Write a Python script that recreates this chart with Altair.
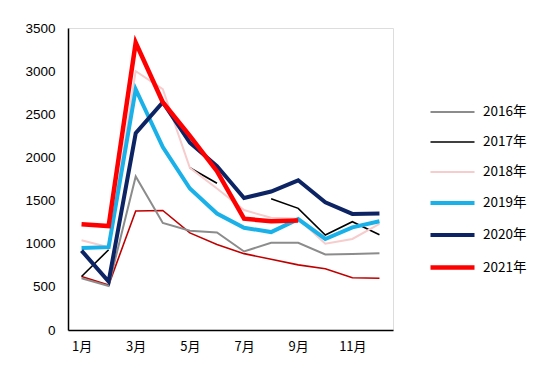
import altair as alt
import pandas as pd

months = ["1月", "2月", "3月", "4月", "5月", "6月", "7月", "8月", "9月", "10月", "11月", "12月"]
tick_months = ["1月", "3月", "5月", "7月", "9月", "11月"]
years = ["2016年", "2017年", "2018年", "2019年", "2020年", "2021年"]

y2016 = [600, 510, 1780, 1240, 1150, 1130, 910, 1010, 1010, 875, 880, 890]
y2017 = [620, 930, None, None, 1880, 1700, None, 1520, 1410, 1100, 1255, 1105]
y2018 = [1040, 960, 3000, 2790, 1880, 1640, 1390, 1300, 1290, 1000, 1055, 1230]
y2019 = [950, 960, 2790, 2120, 1640, 1350, 1185, 1135, 1285, 1055, 1190, 1260]
y2020 = [920, 560, 2280, 2640, 2170, 1900, 1530, 1605, 1735, 1480, 1345, 1350]
y2021 = [1225, 1205, 3330, 2640, 2250, 1840, 1290, 1260, 1270, None, None, None]
y_other = [620, 520, 1380, 1385, 1125, 990, 885, 820, 755, 710, 605, 600]

colors = ["#8c8c8c", "#000000", "#f6cccc", "#19b1e8", "#0c2463", "#ff0000"]
widths = [2, 1.6, 2, 4, 4, 4.5]

series = dict(zip(years, [y2016, y2017, y2018, y2019, y2020, y2021]))
rows = []
for yr, vals in series.items():
    seg = 0
    gap = True
    for m, v in zip(months, vals):
        if v is None:
            gap = True
            continue
        if gap:
            seg += 1
            gap = False
        rows.append({"month": m, "value": v, "year": yr, "seg": f"{yr}-{seg}"})
df = pd.DataFrame(rows)
df_other = pd.DataFrame({"month": months, "value": y_other})

font = "Noto Sans CJK SC"

x = alt.X(
    "month:O",
    sort=months,
    scale=alt.Scale(domain=months),
    axis=alt.Axis(
        values=tick_months, title=None, labelAngle=0, ticks=False, grid=False,
        domainColor="black", domainWidth=1.5, labelFontSize=13, labelPadding=10,
        labelFont=font, labelColor="black",
    ),
)
y = alt.Y(
    "value:Q",
    scale=alt.Scale(domain=[0, 3500], nice=False),
    axis=alt.Axis(
        values=list(range(0, 3501, 500)), format="d", title=None, ticks=False, grid=False,
        domainColor="black", domainWidth=1.5, labelFontSize=13.5, labelPadding=13,
        labelFont="Liberation Sans", labelColor="black",
    ),
)

other = alt.Chart(df_other).mark_line(color="#c00000", strokeWidth=1.6).encode(x=x, y=y)

legend = alt.Legend(
    title=None, orient="none", legendX=360, legendY=61, symbolType="stroke",
    symbolSize=1936, labelFontSize=13.5, labelFont=font, labelColor="black",
    labelOffset=6, padding=0, rowPadding=-18,
)

main = alt.Chart(df).mark_line().encode(
    x=x,
    y=y,
    color=alt.Color("year:N", sort=years, scale=alt.Scale(domain=years, range=colors), legend=legend),
    strokeWidth=alt.StrokeWidth("year:N", sort=years,
                                scale=alt.Scale(type="ordinal", domain=years, range=widths), legend=legend),
    detail="seg:N",
)

chart = alt.layer(other, main).properties(
    width=325,
    height=302,
    autosize=alt.AutoSizeParams(type="none"),
    padding={"left": 60, "top": 20, "right": 149, "bottom": 33},
).configure_view(stroke=None).configure(background="white")

chart.save("out.html", embed_options={"renderer": "svg", "actions": False})
